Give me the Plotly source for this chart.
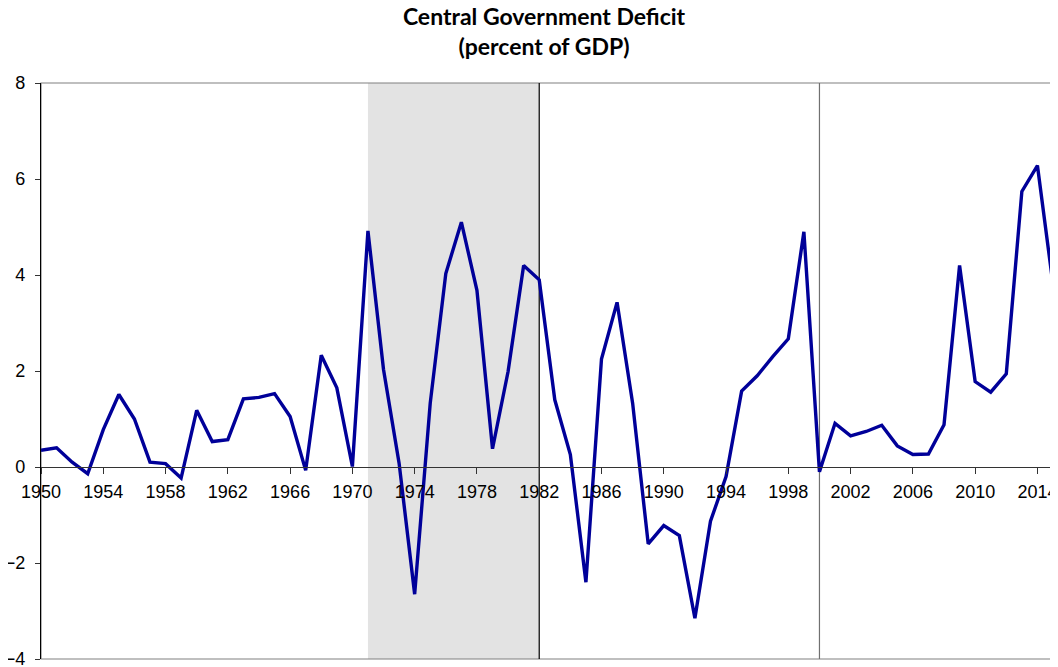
import plotly.graph_objects as go

years = list(range(1950, 2016))
deficit = [
    0.35, 0.40, 0.10, -0.14, 0.78, 1.51, 1.00, 0.10, 0.07, -0.23,
    1.18, 0.53, 0.57, 1.42, 1.45, 1.53, 1.05, -0.07, 2.33, 1.65,
    0.01, 4.92, 2.03, 0.08, -2.65, 1.33, 4.03, 5.10, 3.68, 0.38,
    1.99, 4.20, 3.90, 1.40, 0.26, -2.40, 2.25, 3.43, 1.33, -1.60,
    -1.22, -1.43, -3.15, -1.13, -0.20, 1.58, 1.90, 2.30, 2.67, 4.90,
    -0.10, 0.91, 0.65, 0.74, 0.87, 0.44, 0.26, 0.27, 0.88, 4.20,
    1.78, 1.56, 1.94, 5.74, 6.28, 3.80,
]
xtick_vals = list(range(1950, 2015, 4))
ytick_vals = [-4, -2, 0, 2, 4, 6, 8]
shade_period = (1971, 1982)
vlines = [(1982, "#000000"), (2000, "#707070")]
title_lines = ["Central Government Deficit", "(percent of GDP)"]

fig = go.Figure()
fig.add_trace(go.Scatter(
    x=years, y=deficit, mode="lines",
    line=dict(color="#000099", width=3.4),
    hoverinfo="x+y", showlegend=False, cliponaxis=False,
))

shapes = [
    dict(type="rect", xref="x", yref="paper", x0=shade_period[0], x1=shade_period[1],
         y0=0, y1=1, fillcolor="#E3E3E3", line=dict(width=0), layer="below"),
    dict(type="rect", xref="paper", yref="paper", x0=0, x1=1, y0=0, y1=1,
         line=dict(color="#808080", width=1.2), fillcolor="rgba(0,0,0,0)", layer="below"),
]
for xv, col in vlines:
    shapes.append(dict(type="line", xref="x", yref="paper", x0=xv, x1=xv, y0=0, y1=1,
                       line=dict(color=col, width=1.2), layer="below"))

# the page body adds an 8px offset, so the figure is sized to fit the window
fig.update_layout(
    width=1050, height=659,
    margin=dict(l=33, r=5, t=75, b=8, autoexpand=False),
    paper_bgcolor="white", plot_bgcolor="white",
    title=dict(text="<b>" + "<br>".join(title_lines) + "</b>",
               x=0.5105, xanchor="center", y=0.974, yanchor="top", yref="container",
               font=dict(family="Lato", size=23, color="black")),
    shapes=shapes,
    xaxis=dict(
        range=[1950, 2015], tickmode="array", tickvals=xtick_vals,
        ticktext=[str(v) for v in xtick_vals],
        anchor="free", position=1/3, automargin=False,
        showline=True, linecolor="#333333", linewidth=1.2,
        ticks="outside", ticklen=6, tickcolor="#333333", tickwidth=1,
        showgrid=False, zeroline=False, ticklabelstandoff=2,
        ticklabeloverflow="allow",
        tickfont=dict(family="Liberation Sans", size=18, color="black"),
    ),
    yaxis=dict(
        range=[-4, 8], tickmode="array", tickvals=ytick_vals, automargin=False,
        showline=True, linecolor="#000000", linewidth=1.2,
        ticks="outside", ticklen=5, tickcolor="#333333",
        showgrid=False, zeroline=False, ticklabelstandoff=6,
        ticklabeloverflow="allow",
        tickfont=dict(family="Liberation Sans", size=18, color="black"),
    ),
)

fig.write_html("out.html")
